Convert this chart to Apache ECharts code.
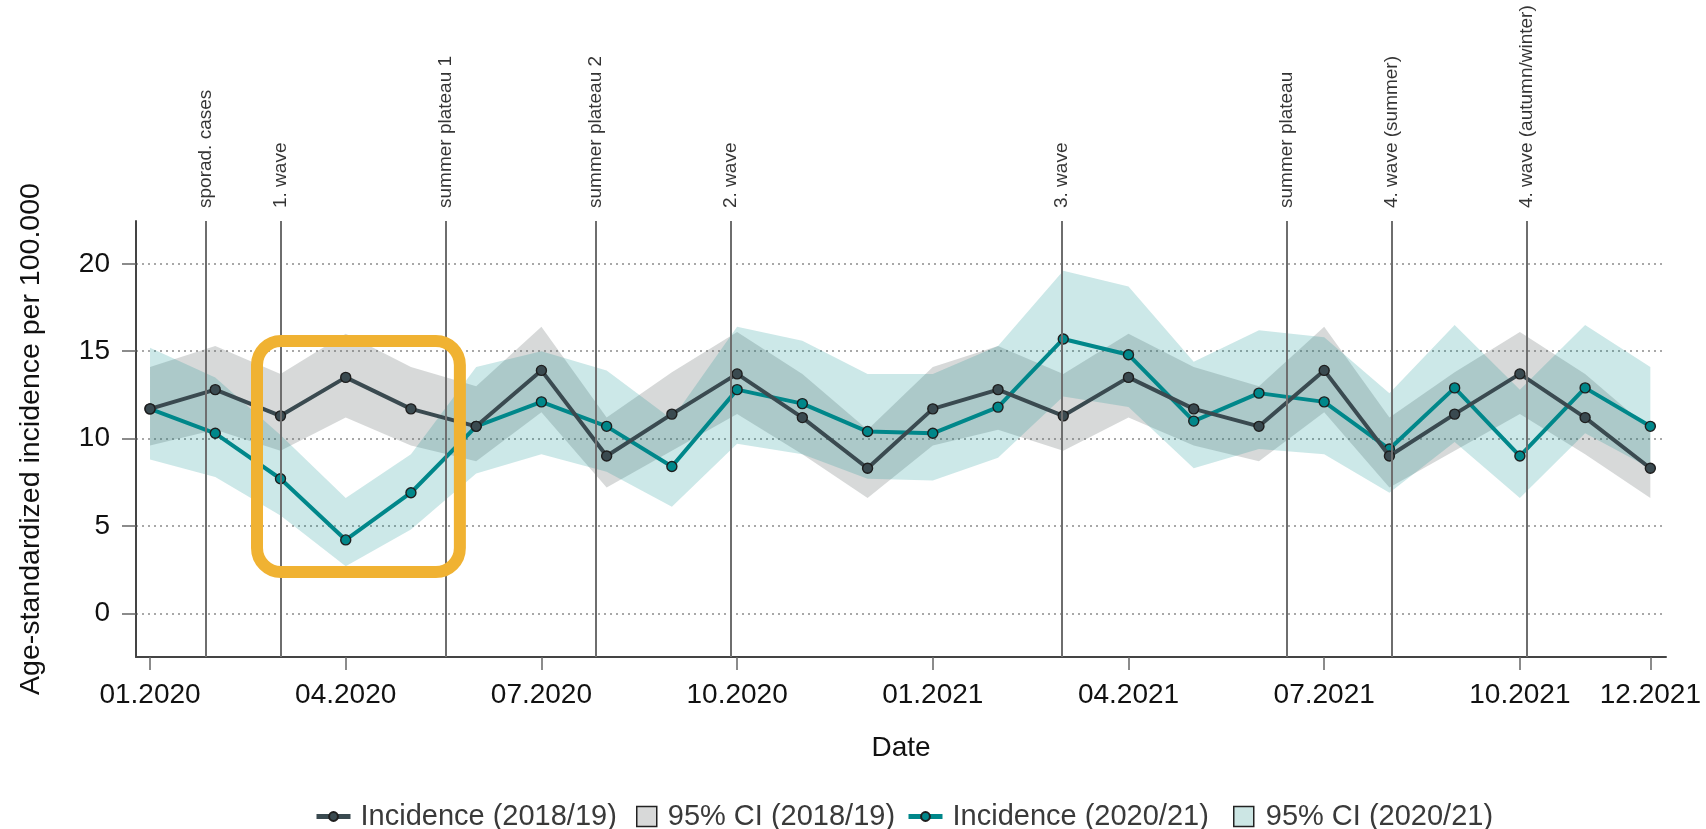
<!DOCTYPE html>
<html>
<head>
<meta charset="utf-8">
<title>Age-standardized incidence 2020/21 vs 2018/19</title>
<script src="https://cdn.jsdelivr.net/npm/echarts@6/dist/echarts.min.js"></script>
<style>
  html, body { margin: 0; padding: 0; background: #ffffff; }
  #chart { width: 1706px; height: 829px; }
</style>
</head>
<body>
<div id="chart"></div>
<script>
// Monthly categories (x = month index from 01.2020)
const months = [
  '01.2020', '02.2020', '03.2020', '04.2020', '05.2020', '06.2020',
  '07.2020', '08.2020', '09.2020', '10.2020', '11.2020', '12.2020',
  '01.2021', '02.2021', '03.2021', '04.2021', '05.2021', '06.2021',
  '07.2021', '08.2021', '09.2021', '10.2021', '11.2021', '12.2021'
];

// Reference period 2018/19, laid over both calendar years
const incidence1819 = [11.7, 12.8, 11.3, 13.5, 11.7, 10.7, 13.9, 9.0, 11.4, 13.7, 11.2, 8.3,
                       11.7, 12.8, 11.3, 13.5, 11.7, 10.7, 13.9, 9.0, 11.4, 13.7, 11.2, 8.3];
const ci1819Lower   = [9.6, 10.5, 9.3, 11.2, 9.6, 8.7, 11.5, 7.2, 9.3, 11.4, 9.1, 6.6,
                       9.6, 10.5, 9.3, 11.2, 9.6, 8.7, 11.5, 7.2, 9.3, 11.4, 9.1, 6.6];
const ci1819Upper   = [14.1, 15.3, 13.7, 16.0, 14.1, 13.0, 16.4, 11.2, 13.8, 16.1, 13.7, 10.5,
                       14.1, 15.3, 13.7, 16.0, 14.1, 13.0, 16.4, 11.2, 13.8, 16.1, 13.7, 10.5];

// Pandemic period 2020/21
const incidence2021 = [11.7, 10.3, 7.7, 4.2, 6.9, 10.7, 12.1, 10.7, 8.4, 12.8, 12.0, 10.4,
                       10.3, 11.8, 15.7, 14.8, 11.0, 12.6, 12.1, 9.4, 12.9, 9.0, 12.9, 10.7];
const ci2021Lower   = [8.8, 7.8, 5.6, 2.7, 4.8, 8.0, 9.1, 8.1, 6.1, 9.7, 9.1, 7.7,
                       7.6, 8.9, 12.4, 11.8, 8.3, 9.4, 9.1, 6.9, 9.8, 6.6, 10.3, 8.3];
const ci2021Upper   = [15.2, 13.5, 10.2, 6.6, 9.1, 14.1, 15.0, 13.9, 11.1, 16.4, 15.6, 13.7,
                       13.7, 15.3, 19.6, 18.7, 14.4, 16.2, 15.8, 12.6, 16.5, 12.8, 16.5, 14.1];

// Pandemic phases (month index where each phase begins)
const phaseNames = ['sporad. cases', '1. wave', 'summer plateau 1', 'summer plateau 2', '2. wave',
                    '3. wave', 'summer plateau', '4. wave (summer)', '4. wave (autumn/winter)'];
const phaseStart = [0.85, 2.0, 4.53, 6.84, 8.9, 13.97, 17.42, 19.04, 21.1];

// Axis ticks
const xTickIdx = [0, 3, 6, 9, 12, 15, 18, 21, 23];
const yTicks = [0, 5, 10, 15, 20];

// Highlighted first-wave window (data units)
const highlight = { fromMonth: 1.64, toMonth: 4.75, low: 2.36, high: 15.58 };

const X_MIN = -0.215, X_MAX = 23.24, Y_MIN = -2.5, Y_MAX = 22.45;

const FONT = 'Arial, "Liberation Sans", Helvetica, sans-serif';
const COL_1819 = '#3a4a50';
const COL_2021 = '#00878a';
const BAND_1819 = 'rgba(100,110,110,0.26)';
const BAND_2021 = 'rgba(0,140,140,0.2)';

const pts = arr => arr.map((v, i) => [i, v]);

// Confidence band: one polygon through the upper bounds and back along the lower bounds
function bandSeries(name, lower, upper, color) {
  return {
    name: name, type: 'custom', z: 1, silent: true,
    data: lower.map((v, i) => [i, v, upper[i]]),
    encode: { x: 0, y: [1, 2] },
    renderItem: function (params, api) {
      if (params.dataIndex !== 0) return null;
      const top = upper.map((v, i) => api.coord([i, v]));
      const bottom = lower.map((v, i) => api.coord([i, v])).reverse();
      return {
        type: 'polygon',
        shape: { points: top.concat(bottom) },
        style: { fill: color }
      };
    }
  };
}

const legendText = { fontSize: 29, color: '#3a3a3a', fontFamily: FONT, lineHeight: 29 };
const LEG_TOP = 797;

const option = {
  animation: false,
  backgroundColor: '#ffffff',
  textStyle: { fontFamily: FONT },
  grid: { left: 136, right: 40, top: 221, bottom: 172, containLabel: false, outerBoundsMode: 'none' },
  legend: [
    {
      left: 309, top: LEG_TOP, itemWidth: 34, itemHeight: 11,
      lineStyle: { width: 5 },
      textStyle: Object.assign({ padding: [0, 0, 0, 5] }, legendText),
      data: ['Incidence (2018/19)']
    },
    {
      left: 631, top: LEG_TOP, itemWidth: 20, itemHeight: 20,
      textStyle: Object.assign({ padding: [0, 0, 0, 6] }, legendText),
      data: [{ name: '95% CI (2018/19)', icon: 'rect',
               itemStyle: { color: '#d8d9d9', borderColor: '#222', borderWidth: 1.5 } }]
    },
    {
      left: 901, top: LEG_TOP, itemWidth: 34, itemHeight: 11,
      lineStyle: { width: 5 },
      textStyle: Object.assign({ padding: [0, 0, 0, 5] }, legendText),
      data: ['Incidence (2020/21)']
    },
    {
      left: 1228, top: LEG_TOP, itemWidth: 20, itemHeight: 20,
      textStyle: Object.assign({ padding: [0, 0, 0, 7] }, legendText),
      data: [{ name: '95% CI (2020/21)', icon: 'rect',
               itemStyle: { color: '#cce6e4', borderColor: '#222', borderWidth: 1.5 } }]
    }
  ],
  xAxis: {
    type: 'value', min: X_MIN, max: X_MAX,
    name: 'Date', nameLocation: 'middle', nameGap: 77,
    nameTextStyle: { fontSize: 28, color: '#111', fontFamily: FONT },
    axisLine: { show: true, onZero: false, lineStyle: { color: '#444', width: 2 } },
    axisTick: { show: true, customValues: xTickIdx, length: 13, lineStyle: { color: '#666', width: 1.5 } },
    axisLabel: {
      customValues: xTickIdx, formatter: v => months[Math.round(v)],
      fontSize: 28, color: '#111', margin: 24, fontFamily: FONT
    },
    splitLine: { show: false }
  },
  yAxis: {
    type: 'value', min: Y_MIN, max: Y_MAX,
    name: 'Age-standardized incidence per 100.000', nameLocation: 'middle', nameGap: 90,
    nameTextStyle: { fontSize: 28.5, color: '#111', fontFamily: FONT },
    axisLine: { show: true, onZero: false, lineStyle: { color: '#444', width: 2 } },
    axisTick: { show: true, customValues: yTicks, length: 14, lineStyle: { color: '#666', width: 1.5 } },
    axisLabel: { customValues: yTicks, fontSize: 28, color: '#111', margin: 26, fontFamily: FONT },
    splitLine: { show: true, lineStyle: { type: [2, 4], color: '#8c8c8c', width: 1.5 } }
  },
  series: [
    bandSeries('95% CI (2018/19)', ci1819Lower, ci1819Upper, BAND_1819),
    bandSeries('95% CI (2020/21)', ci2021Lower, ci2021Upper, BAND_2021),
    {
      name: 'phases', type: 'scatter', symbolSize: 0, clip: false, silent: true, z: 2,
      data: phaseStart.map((x, i) => ({ value: [x, Y_MAX], name: phaseNames[i] })),
      label: {
        show: true, position: 'top', distance: 13, rotate: 90,
        align: 'left', verticalAlign: 'middle',
        formatter: p => p.name, fontSize: 19, color: '#000', fontFamily: FONT
      },
      markLine: {
        symbol: 'none', silent: true, animation: false,
        label: { show: false },
        lineStyle: { type: 'solid', color: '#6e6e6e', width: 2 },
        data: phaseStart.map(x => ({ xAxis: x }))
      }
    },
    {
      name: 'Incidence (2020/21)', type: 'line', data: pts(incidence2021), z: 3,
      symbol: 'circle', symbolSize: 10,
      lineStyle: { color: COL_2021, width: 4 },
      itemStyle: { color: COL_2021, borderColor: '#1e1e1e', borderWidth: 1.4 }
    },
    {
      name: 'Incidence (2018/19)', type: 'line', data: pts(incidence1819), z: 4,
      symbol: 'circle', symbolSize: 10,
      lineStyle: { color: COL_1819, width: 4 },
      itemStyle: { color: COL_1819, borderColor: '#1e1e1e', borderWidth: 1.4 }
    }
  ]
};

const chart = echarts.init(document.getElementById('chart'), null, { renderer: 'canvas' });
chart.setOption(option);

// Rounded frame around the first-wave dip
const tl = chart.convertToPixel({ gridIndex: 0 }, [highlight.fromMonth, highlight.high]);
const br = chart.convertToPixel({ gridIndex: 0 }, [highlight.toMonth, highlight.low]);
chart.setOption({
  graphic: [{
    type: 'rect', z: 100, silent: true,
    shape: { x: tl[0], y: tl[1], width: br[0] - tl[0], height: br[1] - tl[1], r: 24 },
    style: { fill: 'none', stroke: '#f0b232', lineWidth: 12 }
  }]
});
</script>
</body>
</html>
